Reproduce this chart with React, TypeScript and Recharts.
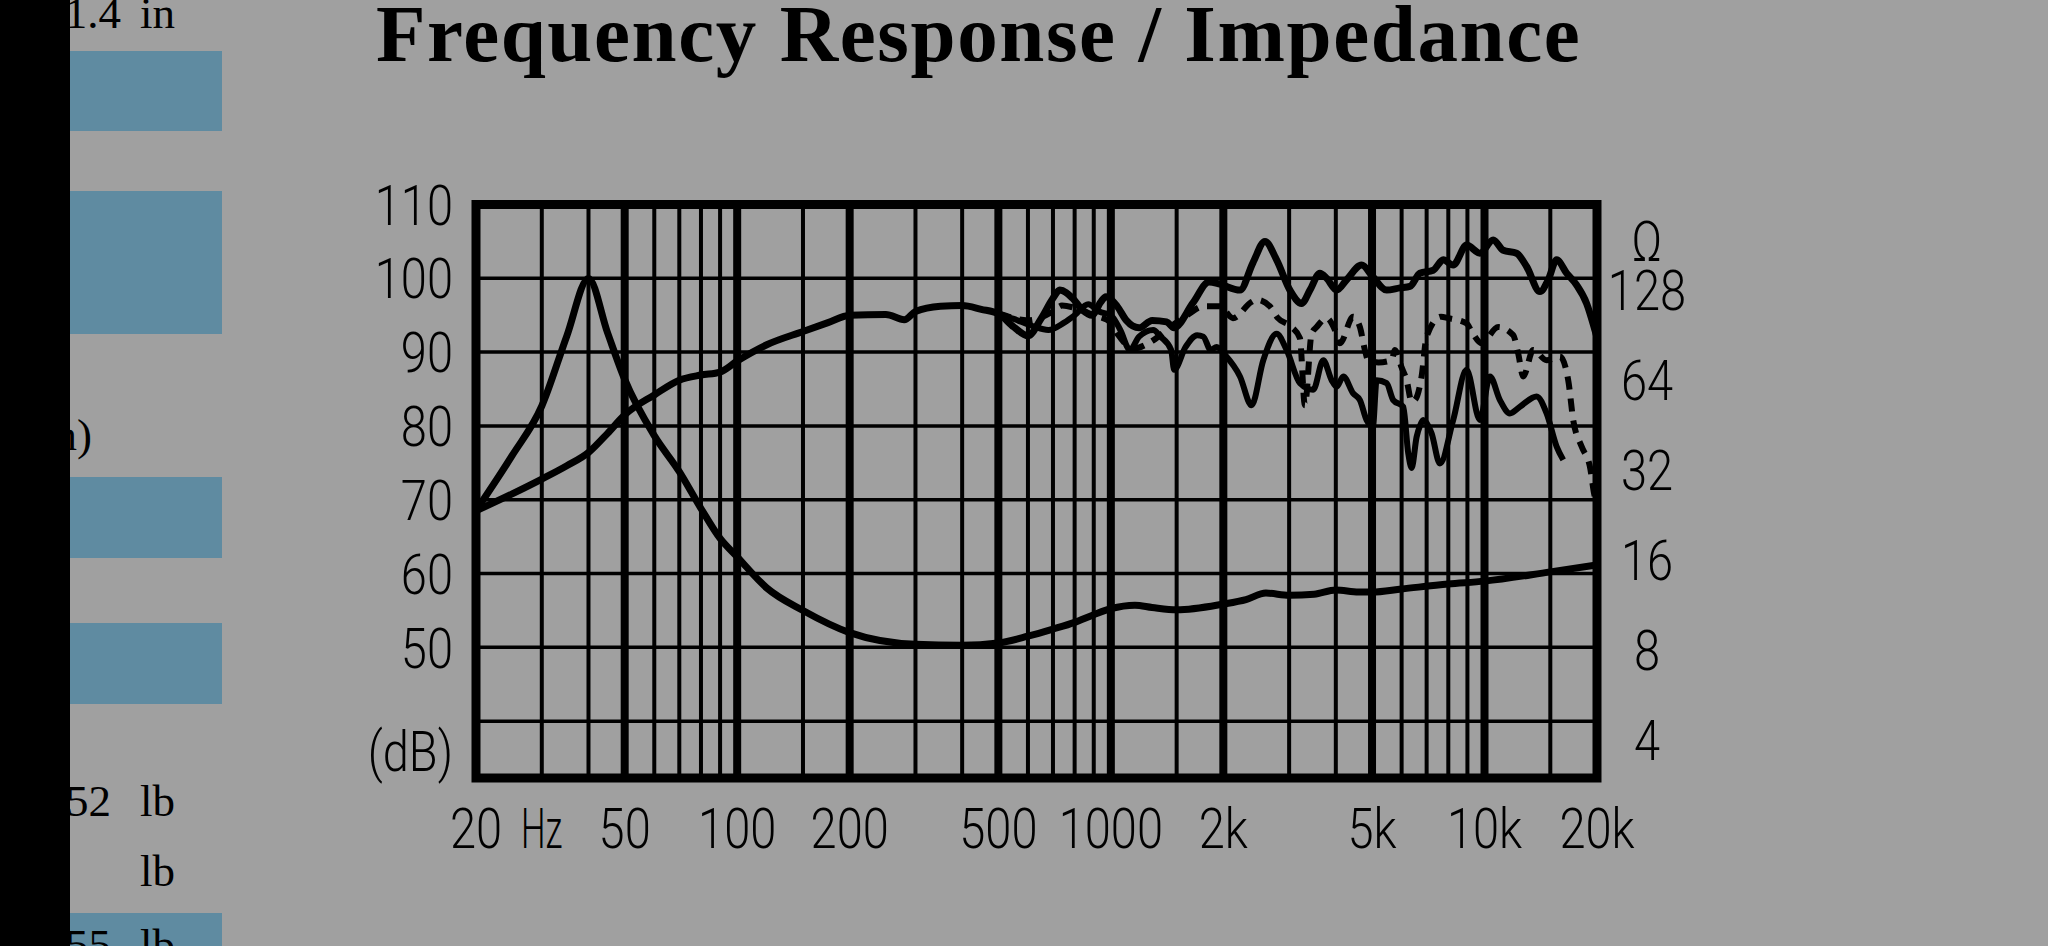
import React from "react";
import { LineChart, Line, XAxis, YAxis, ReferenceLine, ReferenceArea } from "recharts";

// frequency grid (Hz) – thin and thick vertical lines
const THIN_FREQS = [30, 40, 60, 70, 80, 90, 150, 300, 400, 600, 700, 800, 900, 1500, 3000, 4000, 6000, 7000, 8000, 9000, 15000];
const THICK_FREQS = [50, 100, 200, 500, 1000, 2000, 5000, 10000];
const DB_LINES = [40, 50, 60, 70, 80, 90, 100];

const FREQ_TICKS = [20, 50, 100, 200, 500, 1000, 2000, 5000, 10000, 20000];
const FREQ_LABELS = ["20", "50", "100", "200", "500", "1000", "2k", "5k", "10k", "20k"];
const DB_TICKS = [36, 50, 60, 70, 80, 90, 100, 110];
const OHM_TICKS = [4, 8, 16, 32, 64, 128, 187];

const DB_DOMAIN: [number, number] = [32.3, 110];
const OHM_DOMAIN: [number, number] = [2.985, 247.4];

// [Hz, dB] on-axis response
const onAxis: [number, number][] = [
  [20, 68.5], [25, 70.8], [30, 72.8], [35, 74.6], [40, 76.4], [45, 79], [50, 81.5], [60, 84.2],
  [70, 86.2], [80, 86.9], [90, 87.3], [100, 88.8], [120, 91], [150, 92.8], [175, 94], [200, 95],
  [250, 95.1], [280, 94.4], [300, 95.5], [350, 96.2], [400, 96.3], [450, 95.8], [500, 95.2],
  [550, 93.4], [600, 92.2], [650, 94.5], [700, 97.3], [730, 98.4], [790, 97.3], [840, 95.7],
  [890, 95], [940, 96.8], [970, 97.5], [1040, 96.2], [1100, 94.3], [1190, 93.3], [1290, 94.3],
  [1410, 94.1], [1475, 93.3], [1660, 96.7], [1830, 99.5], [1960, 99.2], [2216, 98.4], [2400, 102.1],
  [2585, 105], [2777, 102.5], [3014, 98.4], [3240, 96.6], [3410, 98.4], [3626, 100.7], [3780, 100],
  [4020, 98.4], [4276, 99.8], [4690, 101.8], [5026, 100.2], [5470, 98.4], [5938, 98.7], [6316, 98.9],
  [6716, 100.7], [7290, 101.1], [7754, 102.5], [8246, 101.8], [8954, 104.5], [9720, 103.4],
  [10552, 105.2], [11222, 103.8], [12184, 103.4], [12958, 101.6], [14072, 98.2], [14810, 99.8],
  [15596, 102.5], [16580, 100.7], [17636, 99.1], [18760, 96.6], [19744, 93], [20000, 92],
];

// [Hz, dB] off-axis, dashed
const offAxis30: [number, number][] = [
  [500, 95.3], [600, 94.3], [700, 95.5], [740, 96.3], [800, 96], [900, 95], [1000, 94], [1047, 92.3],
  [1150, 90.5], [1298, 91.6], [1450, 93.5], [1600, 95], [1767, 96.2], [1958, 96.2], [2122, 94.6],
  [2380, 96.8], [2456, 97.1], [2665, 96.2], [2800, 94.6], [3046, 93.4], [3206, 91.9], [3306, 82.8],
  [3446, 92.5], [3554, 93.4], [3780, 94.6], [3978, 93], [4102, 91.2], [4452, 94.8], [4640, 93.4],
  [4784, 90.3], [4882, 88.9], [5200, 88.6], [5642, 88.9], [5758, 90.3], [5993, 88], [6188, 86.2],
  [6382, 83.3], [6512, 83.5], [6786, 86.7], [6998, 92.1], [7652, 94.8], [7998, 94.6], [8954, 93.9],
  [9234, 92.8], [9822, 91.2], [10878, 93.4], [11936, 92.3], [12310, 89.8], [12692, 86.7],
  [13500, 90.3], [14662, 88.9], [15916, 89.4], [16750, 86.2], [17274, 80.8], [18194, 77.2],
  [19144, 74.5], [19744, 70.4], [20000, 70],
];

// [Hz, dB] off-axis, lower solid
const offAxis60: [number, number][] = [
  [500, 95.2], [550, 94.5], [620, 93.5], [680, 93], [750, 94], [800, 95], [870, 96.5], [930, 95.5],
  [1000, 95], [1060, 93], [1125, 90.3], [1190, 92.1], [1298, 93], [1358, 92.1], [1450, 90.3],
  [1477, 87.6], [1585, 90.7], [1702, 92.3], [1767, 92.1], [1850, 90.3], [1920, 90.7], [2022, 89.6],
  [2216, 86.7], [2380, 82.8], [2558, 88.9], [2777, 92.5], [2954, 90.3], [3206, 85.8], [3480, 84.9],
  [3702, 88.9], [3898, 86.2], [4020, 85.3], [4188, 86.7], [4452, 84.4], [4640, 83.5], [4836, 80.8],
  [5026, 79.9], [5144, 86.2], [5470, 85.8], [5698, 83.5], [6060, 82.6], [6250, 76.3], [6382, 74.3],
  [6580, 78.5], [6716, 80], [6854, 80.8], [7218, 79], [7596, 74.9], [8246, 80.8], [8954, 87.6],
  [9720, 80.8], [10338, 86.7], [10996, 83.5], [11694, 81.7], [12438, 82.6], [13786, 84],
  [14662, 81.7], [15596, 77.2], [16242, 75.4],
];

// [Hz, ohm] impedance
const impedance: [number, number][] = [
  [20, 23.4], [25, 35.8], [30, 52.4], [35, 89.9], [40, 140], [45, 92], [50, 64.3], [60, 41.7],
  [70, 31.6], [80, 23.8], [90, 18.9], [100, 16.4], [120, 12.9], [150, 10.85], [200, 9.15],
  [300, 8.36], [400, 8.3], [500, 8.45], [600, 8.9], [700, 9.4], [800, 9.9], [900, 10.5],
  [1000, 11], [1160, 11.3], [1290, 11.1], [1500, 10.9], [2000, 11.4], [2300, 11.8], [2600, 12.4],
  [3000, 12.2], [3500, 12.3], [4000, 12.7], [4600, 12.5], [5000, 12.5], [6000, 12.8], [8000, 13.3],
  [10000, 13.6], [15000, 14.6], [20000, 15.4],
];

const toRows = (pts: [number, number][]) => pts.map(([f, v]) => ({ f, v }));

const AXIS_FONT = 'Roboto, "DejaVu Sans Condensed", sans-serif';
const FS = 56;
const SQUEEZE = 0.84;

// condensed label: squeezes text horizontally around its anchor point
function Label({ x, y, anchor, squeeze = SQUEEZE, children }: { x: number; y: number; anchor: "start" | "middle" | "end"; squeeze?: number; children: React.ReactNode }) {
  return (
    <text
      transform={`translate(${x},${y}) scale(${squeeze},1)`}
      x={0}
      y={0}
      dy={FS * 0.36}
      textAnchor={anchor}
      fontFamily={AXIS_FONT}
      fontWeight={300}
      fontSize={FS}
      fill="#000"
    >
      {children}
    </text>
  );
}

function DbTick(props: any) {
  const { x, y, payload } = props;
  return <Label x={x} y={y} anchor="end">{payload.value === 36 ? "(dB)" : String(payload.value)}</Label>;
}

function OhmTick(props: any) {
  const { x, y, payload } = props;
  return <Label x={x} y={y} anchor="middle">{payload.value === 187 ? "Ω" : String(payload.value)}</Label>;
}

function FreqTick(props: any) {
  const { x, y, payload } = props;
  const label = FREQ_LABELS[FREQ_TICKS.indexOf(payload.value)];
  return (
    <g>
      <Label x={x} y={y} anchor="middle">{label}</Label>
      {payload.value === 20 && <Label x={x + 45} y={y} anchor="start" squeeze={0.62}>Hz</Label>}
    </g>
  );
}

function SidePanel() {
  const serif = '"Liberation Serif", "Times New Roman", serif';
  return (
    <svg width={2048} height={946} style={{ position: "absolute", left: 0, top: 0 }}>
      <rect x={70} y={51} width={152} height={80} fill="#5f8ba1" />
      <rect x={70} y={191} width={152} height={143} fill="#5f8ba1" />
      <rect x={70} y={477} width={152} height={81} fill="#5f8ba1" />
      <rect x={70} y={623} width={152} height={81} fill="#5f8ba1" />
      <rect x={70} y={913} width={152} height={40} fill="#5f8ba1" />
      <g fontFamily={serif} fontSize={45} fill="#000">
        <text x={121} y={28} textAnchor="end">1.4</text>
        <text x={140} y={28}>in</text>
        <text x={92} y={450} textAnchor="end">(in)</text>
        <text x={111} y={816} textAnchor="end">1.52</text>
        <text x={140} y={816}>lb</text>
        <text x={140} y={886}>lb</text>
        <text x={111} y={960} textAnchor="end">1.55</text>
        <text x={140} y={960}>lb</text>
      </g>
      <rect x={0} y={0} width={70} height={946} fill="#000" />
      <text x={376} y={61} fontFamily={serif} fontWeight="bold" fontSize={81} letterSpacing={1.6} fill="#000">
        Frequency Response / Impedance
      </text>
    </svg>
  );
}

export default function App() {
  const yAxisW = 100;
  const xAxisH = 60;
  return (
    <div style={{ position: "absolute", left: 0, top: 0, width: 2048, height: 946, background: "#a0a0a0", overflow: "hidden" }}>
      <SidePanel />
      <div style={{ position: "absolute", left: 0, top: 0 }}>
        <LineChart
          width={2048}
          height={946}
          margin={{ left: 476 - yAxisW, right: 2048 - 1597 - yAxisW, top: 204.5, bottom: 946 - 778 - xAxisH }}
        >
          <XAxis
            dataKey="f"
            type="number"
            scale="log"
            domain={[20, 20000]}
            allowDataOverflow
            ticks={FREQ_TICKS}
            interval={0}
            height={xAxisH}
            axisLine={false}
            tickLine={false}
            tickSize={0}
            tickMargin={50}
            tick={<FreqTick />}
          />
          <YAxis
            yAxisId="db"
            type="number"
            domain={DB_DOMAIN}
            allowDataOverflow
            ticks={DB_TICKS}
            interval={0}
            width={yAxisW}
            axisLine={false}
            tickLine={false}
            tickSize={0}
            tickMargin={23}
            tick={<DbTick />}
          />
          <YAxis
            yAxisId="ohm"
            orientation="right"
            type="number"
            scale="log"
            domain={OHM_DOMAIN}
            allowDataOverflow
            ticks={OHM_TICKS}
            interval={0}
            width={yAxisW}
            axisLine={false}
            tickLine={false}
            tickSize={0}
            tickMargin={50}
            tick={<OhmTick />}
          />
          {DB_LINES.map((d) => (
            <ReferenceLine key={"h" + d} yAxisId="db" y={d} stroke="#000" strokeWidth={3.5} />
          ))}
          {THIN_FREQS.map((f) => (
            <ReferenceLine key={"v" + f} yAxisId="db" x={f} stroke="#000" strokeWidth={4} />
          ))}
          {THICK_FREQS.map((f) => (
            <ReferenceLine key={"V" + f} yAxisId="db" x={f} stroke="#000" strokeWidth={8} />
          ))}
          <ReferenceArea
            yAxisId="db"
            x1={20}
            x2={20000}
            y1={DB_DOMAIN[0]}
            y2={DB_DOMAIN[1]}
            fill="none"
            fillOpacity={0}
            stroke="#000"
            strokeWidth={9}
            ifOverflow="visible"
          />
          <Line yAxisId="ohm" data={toRows(impedance)} dataKey="v" type="monotone" stroke="#000" strokeWidth={7} dot={false} isAnimationActive={false} />
          <Line yAxisId="db" data={toRows(onAxis)} dataKey="v" type="monotone" stroke="#000" strokeWidth={7} strokeLinejoin="round" dot={false} isAnimationActive={false} />
          <Line yAxisId="db" data={toRows(offAxis30)} dataKey="v" type="monotone" stroke="#000" strokeWidth={6} strokeDasharray="13 9" dot={false} isAnimationActive={false} />
          <Line yAxisId="db" data={toRows(offAxis60)} dataKey="v" type="monotone" stroke="#000" strokeWidth={6} strokeLinejoin="round" dot={false} isAnimationActive={false} />
        </LineChart>
      </div>
    </div>
  );
}
